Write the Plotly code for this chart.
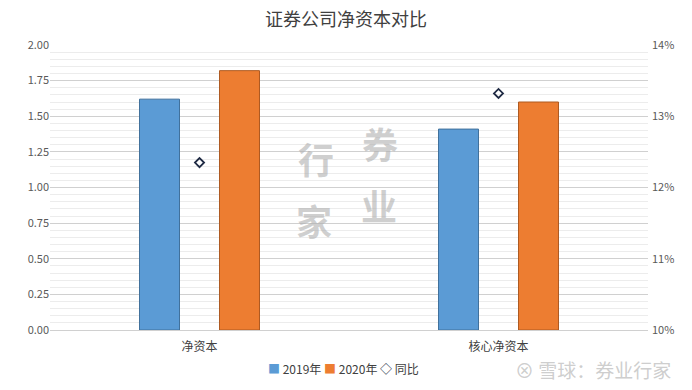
import plotly.graph_objects as go

categories = ["净资本", "核心净资本"]
values_2019 = [1.62, 1.41]
values_2020 = [1.82, 1.60]
yoy_pct = [12.35, 13.32]
left_ticks = [0, 0.25, 0.5, 0.75, 1.0, 1.25, 1.5, 1.75, 2.0]
right_ticks = [10, 11, 12, 13, 14]
right_labels = [f"{v}%" for v in right_ticks]

FONT = "Noto Sans CJK SC, Lato, sans-serif"
TXT = "#595959"
BLUE, ORANGE, NAVY = "#5B9BD5", "#ED7D31", "#1F2A44"

fig = go.Figure()
fig.add_trace(go.Bar(name="2019年", x=categories, y=values_2019,
                     marker=dict(color=BLUE, line=dict(color="#41719C", width=1))))
fig.add_trace(go.Bar(name="2020年", x=categories, y=values_2020,
                     marker=dict(color=ORANGE, line=dict(color="#AE5A21", width=1))))
fig.add_trace(go.Scatter(name="同比", x=categories, y=yoy_pct, yaxis="y2", mode="markers",
                         marker=dict(symbol="diamond-open", size=7, color=NAVY,
                                     line=dict(width=1.8, color=NAVY))))

L, R, T, B, W, H = 50, 648, 45, 330, 692, 390
def px(x): return (x - L) / (R - L)
def py(y): return (B - y) / (B - T)

wm = dict(family=FONT, size=36, color="rgba(175,175,175,0.6)", weight="bold")
for ch, x, y in [("行", 316, 158), ("家", 314, 220), ("券", 380, 143), ("业", 379, 205)]:
    fig.add_annotation(text=ch, x=px(x), y=py(y), xref="paper", yref="paper", showarrow=False,
                       xanchor="center", yanchor="middle", font=wm)

fig.add_annotation(text="⊗ 雪球：券业行家", x=px(673), y=py(369), xref="paper", yref="paper",
                   showarrow=False, xanchor="right", yanchor="middle",
                   font=dict(family=FONT, size=19, color="rgba(200,200,200,0.9)"))

legend_text = (f'<span style="color:{BLUE}">■</span> 2019年 '
               f'<span style="color:{ORANGE}">■</span> 2020年 '
               f'<span style="color:{NAVY}">◇</span> 同比')
fig.add_annotation(text=legend_text, x=px(343), y=py(368), xref="paper", yref="paper",
                   showarrow=False, xanchor="center", yanchor="middle",
                   font=dict(family=FONT, size=12, color="#404040"))

fig.update_layout(
    width=W, height=H,
    margin=dict(l=L, r=W - R, t=T, b=H - B, autoexpand=False),
    paper_bgcolor="white", plot_bgcolor="white",
    title=dict(text="证券公司净资本对比", x=0.5, xanchor="center", y=1 - 20 / H, yanchor="middle",
               font=dict(family=FONT, size=18, color="#404040")),
    barmode="group", bargap=0.465, bargroupgap=0.5,
    font=dict(family=FONT, size=11, color=TXT),
    showlegend=False,
    xaxis=dict(showline=True, linecolor="#d0d0d0", ticks="", tickfont=dict(size=12, color="#404040"),
               automargin=False, ticklabelstandoff=6),
    yaxis=dict(range=[0, 2.0], tickvals=left_ticks, tickformat=".2f", showgrid=True,
               gridcolor="#d0d0d0", zeroline=False, ticks="", automargin=False,
               minor=dict(dtick=0.05, showgrid=True, gridcolor="#ececec"),
               tickfont=dict(size=11, color=TXT)),
    yaxis2=dict(range=[10, 14], tickvals=right_ticks, ticktext=right_labels, overlaying="y", side="right",
                showgrid=False, zeroline=False, automargin=False, tickfont=dict(size=11, color=TXT),
                ticklabelstandoff=3),
)
fig.write_html("out.html", config={"displayModeBar": False},
               post_script="document.body.style.margin='0';document.body.style.overflow='hidden';")
